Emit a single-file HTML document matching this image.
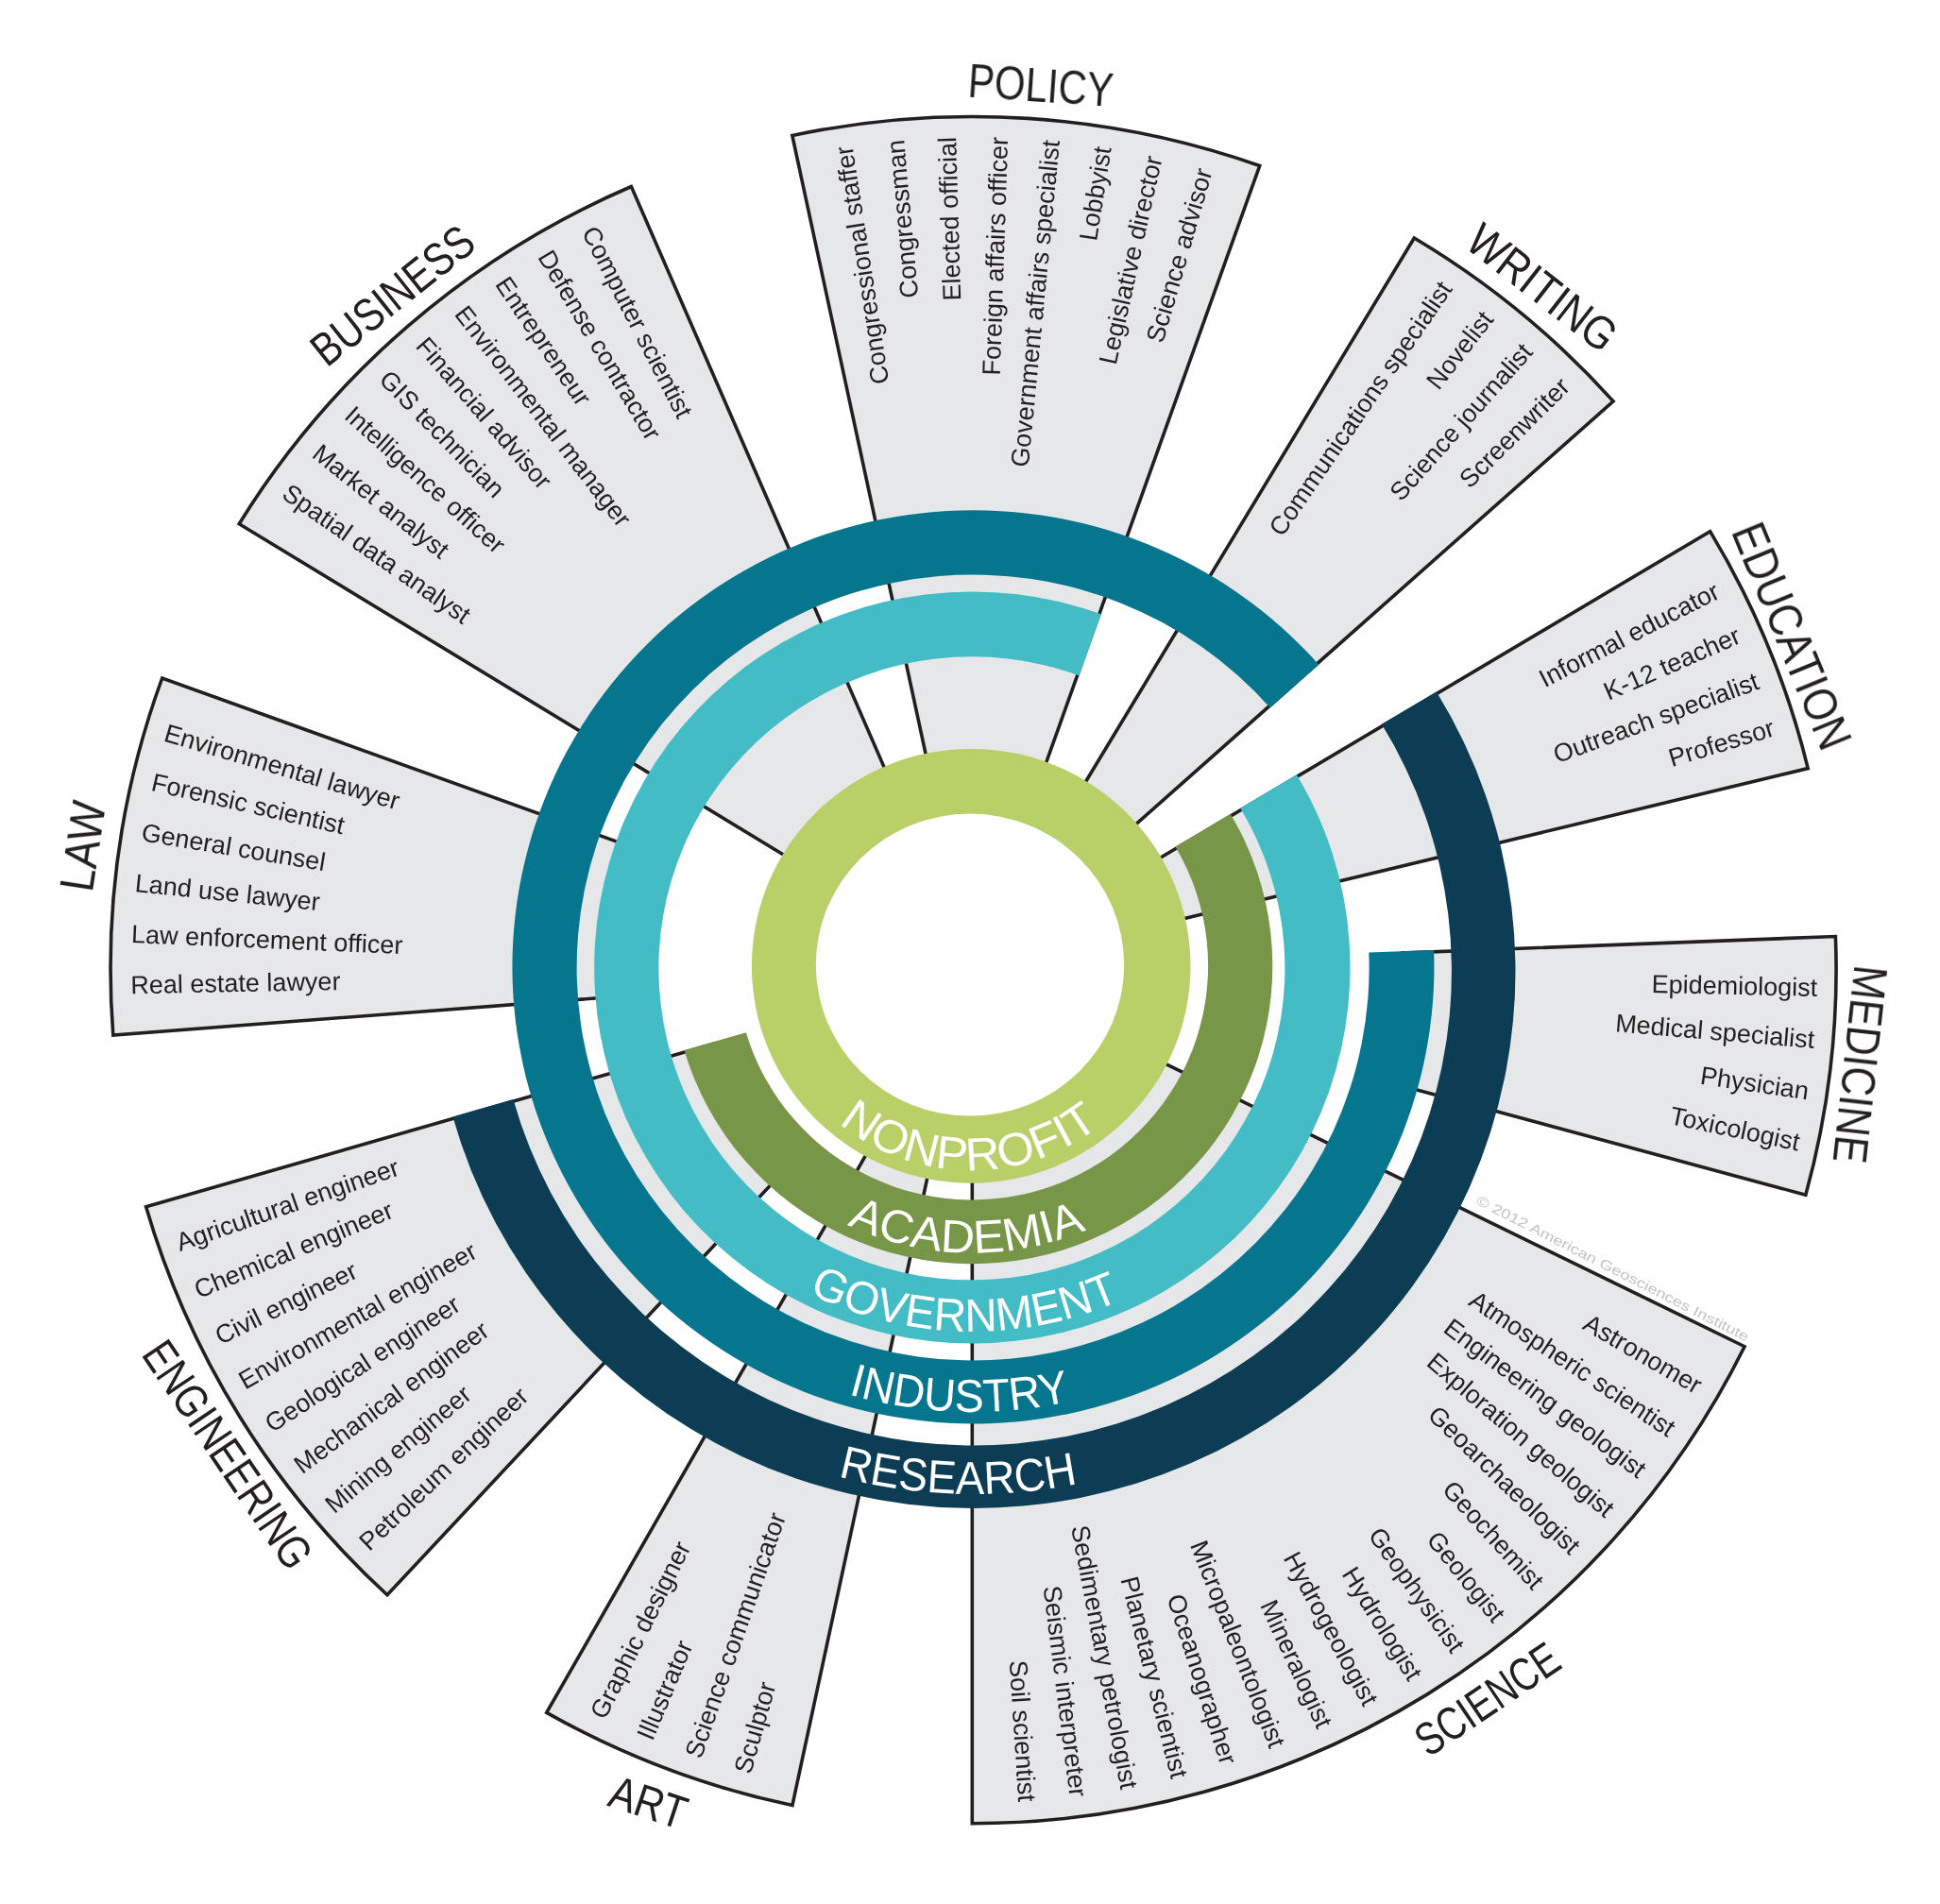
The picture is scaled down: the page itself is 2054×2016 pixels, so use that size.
<!DOCTYPE html>
<html><head><meta charset="utf-8"><title>Geoscience careers</title>
<style>html,body{margin:0;padding:0;background:#fff}svg{display:block}</style></head>
<body>
<svg width="2054" height="2016" viewBox="0 0 2054 2016">
<rect width="2054" height="2016" fill="#fff"/>
<g opacity="0.9999">
<g fill="#e6e7e9" stroke="#231f20" stroke-width="3.6" stroke-linejoin="miter">
<path d="M987.1 830.9 L838.8 143.5 A910.2 903 0 0 1 1333.7 175.5 L1096.7 838"/>
<path d="M1133 855 L1497.3 252 A910.2 903 0 0 1 1708.1 424.9 L1179.6 893.2"/>
<path d="M1202.3 923.8 L1810.6 562.6 A910.5 903.3 0 0 1 1914.2 813.6 L1225.2 979.4"/>
<path d="M1482.6 1009.1 L1943.4 991.5 A914.8 907.5 0 0 1 1911.8 1265.2 L1466.9 1144.9"/>
<path d="M1210.2 1114.8 L1847.1 1425.7 A911.4 904.2 0 0 1 1029.3 1930.7 L1029.3 1226.5"/>
<path d="M987.2 1222.1 L838.9 1911.6 A912.2 905 0 0 1 578.7 1813.4 L929.7 1200.4"/>
<path d="M836 1233.2 L410 1688.8 A910.6 903.4 0 0 1 154.6 1277.8 L756.3 1104.9"/>
<path d="M665.5 1054.3 L119.8 1096.1 A912.2 905 0 0 1 171.7 718 L686.3 903.1"/>
<path d="M857.4 922 L253.2 554.7 A910.2 903 0 0 1 668.4 197.5 L949.4 842.9"/>
</g>
<path d="M795.9 1022.8 A232.3 229.9 0 0 1 1260.5 1022.8 A232.3 229.9 0 0 1 795.9 1022.8 Z M863.8 1021.6 A163.2 160 0 0 1 1190.2 1021.6 A163.2 160 0 0 1 863.8 1021.6 Z" fill="#b9cf68" fill-rule="evenodd"/>
<path d="M1302.8 861.9 A317.9 315.4 0 1 1 724.5 1112.1 L789.9 1093.3 A249.8 247.8 0 1 0 1244.4 896.6 Z" fill="#789648"/>
<path d="M1372.9 820.3 A400.2 398 0 1 1 1165.9 650.3 L1142.6 715.4 A331.5 330 0 1 0 1313.2 855.7 Z" fill="#43bcc5"/>
<path d="M1518.1 1005.9 A488 483.6 0 1 1 1396.3 703.8 L1344.8 749.4 A419.5 416 0 1 0 1449.3 1008.5 Z" fill="#06768f"/>
<path d="M1520.9 732.4 A573.3 568.8 0 1 1 479.4 1182.5 L543.4 1164.1 A506.2 502.2 0 1 0 1462.9 766.8 Z" fill="#0d3d54"/>
<defs>
<path id="rp0" d="M809.4 1022.8 A218.8 216.4 0 0 0 1247 1022.8"/>
<path id="rp1" d="M722.9 1022.6 A306.4 303.9 0 0 0 1335.7 1022.6"/>
<path id="rp2" d="M641.6 1024.3 A387.7 385.5 0 0 0 1417 1024.3"/>
<path id="rp3" d="M554.7 1023.8 A475.7 471.3 0 0 0 1506.1 1023.8"/>
<path id="rp4" d="M472.7 1028.2 A558.5 554 0 0 0 1589.7 1028.2"/>
</defs>
<g font-family="'Liberation Sans', sans-serif" font-size="49" fill="#fff" text-anchor="middle">
<text><textPath href="#rp0" startOffset="49.67%" textLength="298.5" lengthAdjust="spacingAndGlyphs">NONPROFIT</textPath></text>
<text><textPath href="#rp1" startOffset="49.34%" textLength="260.9" lengthAdjust="spacingAndGlyphs">ACADEMIA</textPath></text>
<text><textPath href="#rp2" startOffset="49.28%" textLength="341.3" lengthAdjust="spacingAndGlyphs">GOVERNMENT</textPath></text>
<text><textPath href="#rp3" startOffset="48.98%" textLength="237.8" lengthAdjust="spacingAndGlyphs">INDUSTRY</textPath></text>
<text><textPath href="#rp4" startOffset="49.01%" textLength="256.5" lengthAdjust="spacingAndGlyphs">RESEARCH</textPath></text>
</g>
<g font-family="'Liberation Sans', sans-serif" font-size="49.3" fill="#231f20" text-anchor="middle">
<text transform="translate(1102 89.8) rotate(3.9)" dy="0.358em" textLength="154" lengthAdjust="spacingAndGlyphs">POLICY</text>
<text transform="translate(1633.3 304) rotate(38)" dy="0.358em" textLength="186" lengthAdjust="spacingAndGlyphs">WRITING</text>
<text transform="translate(1897.6 673.2) rotate(67.6)" dy="0.358em" textLength="254" lengthAdjust="spacingAndGlyphs">EDUCATION</text>
<text transform="translate(1970 1127.1) rotate(96.3)" dy="0.358em" textLength="210" lengthAdjust="spacingAndGlyphs">MEDICINE</text>
<text transform="translate(1574.3 1798.6) rotate(-34)" dy="0.358em" textLength="173" lengthAdjust="spacingAndGlyphs">SCIENCE</text>
<text transform="translate(686.6 1907.7) rotate(18.3)" dy="0.358em" textLength="83" lengthAdjust="spacingAndGlyphs">ART</text>
<text transform="translate(241.7 1539.7) rotate(55.9)" dy="0.358em" textLength="279.5" lengthAdjust="spacingAndGlyphs">ENGINEERING</text>
<text transform="translate(87.1 895.8) rotate(-81.3)" dy="0.358em" textLength="95.5" lengthAdjust="spacingAndGlyphs">LAW</text>
<text transform="translate(415.3 312.1) rotate(-38.5)" dy="0.358em" textLength="205" lengthAdjust="spacingAndGlyphs">BUSINESS</text>
</g>
<g font-family="'Liberation Sans', sans-serif" font-size="27" fill="#231f20">
<text transform="translate(894.1 154.8) rotate(-98.8)" dy="0.31em" text-anchor="end">Congressional staffer</text>
<text transform="translate(948.7 148.1) rotate(-95.2)" dy="0.31em" text-anchor="end">Congressman</text>
<text transform="translate(1003.7 144.9) rotate(-91.7)" dy="0.31em" text-anchor="end">Elected official</text>
<text transform="translate(1058.8 145) rotate(-88.1)" dy="0.31em" text-anchor="end">Foreign affairs officer</text>
<text transform="translate(1113.7 148.5) rotate(-84.5)" dy="0.31em" text-anchor="end">Government affairs specialist</text>
<text transform="translate(1168.4 155.4) rotate(-81)" dy="0.31em" text-anchor="end">Lobbyist</text>
<text transform="translate(1222.5 165.6) rotate(-77.4)" dy="0.31em" text-anchor="end">Legislative director</text>
<text transform="translate(1275.8 179.1) rotate(-73.9)" dy="0.31em" text-anchor="end">Science advisor</text>
<text transform="translate(1531.7 301.3) rotate(-55.5)" dy="0.31em" text-anchor="end">Communications specialist</text>
<text transform="translate(1575.8 333.4) rotate(-52)" dy="0.31em" text-anchor="end">Novelist</text>
<text transform="translate(1617.8 368.1) rotate(-48.4)" dy="0.31em" text-anchor="end">Science journalist</text>
<text transform="translate(1657.6 405.3) rotate(-44.9)" dy="0.31em" text-anchor="end">Screenwriter</text>
<text transform="translate(1818.6 624.9) rotate(-27.2)" dy="0.31em" text-anchor="end">Informal educator</text>
<text transform="translate(1841.3 672.3) rotate(-23.7)" dy="0.31em" text-anchor="end">K-12 teacher</text>
<text transform="translate(1861.2 721) rotate(-20.3)" dy="0.31em" text-anchor="end">Outreach specialist</text>
<text transform="translate(1878 770.7) rotate(-16.9)" dy="0.31em" text-anchor="end">Professor</text>
<text transform="translate(1924.2 1046.6) rotate(1.3)" dy="0.31em" text-anchor="end">Epidemiologist</text>
<text transform="translate(1921.2 1101.6) rotate(4.8)" dy="0.31em" text-anchor="end">Medical specialist</text>
<text transform="translate(1914.8 1156.2) rotate(8.4)" dy="0.31em" text-anchor="end">Physician</text>
<text transform="translate(1905 1210.4) rotate(11.9)" dy="0.31em" text-anchor="end">Toxicologist</text>
<text transform="translate(1799.3 1469.3) rotate(30.1)" dy="0.31em" text-anchor="end">Astronomer</text>
<text transform="translate(1770.5 1515.3) rotate(33.6)" dy="0.31em" text-anchor="end">Atmospheric scientist</text>
<text transform="translate(1739 1559.4) rotate(37.1)" dy="0.31em" text-anchor="end">Engineering geologist</text>
<text transform="translate(1704.7 1601.6) rotate(40.6)" dy="0.31em" text-anchor="end">Exploration geologist</text>
<text transform="translate(1667.9 1641.5) rotate(44.2)" dy="0.31em" text-anchor="end">Geoarchaeologist</text>
<text transform="translate(1628.8 1679.2) rotate(47.7)" dy="0.31em" text-anchor="end">Geochemist</text>
<text transform="translate(1587.3 1714.4) rotate(51.2)" dy="0.31em" text-anchor="end">Geologist</text>
<text transform="translate(1543.8 1747) rotate(54.7)" dy="0.31em" text-anchor="end">Geophysicist</text>
<text transform="translate(1498.3 1777) rotate(58.2)" dy="0.31em" text-anchor="end">Hydrologist</text>
<text transform="translate(1451.1 1804.1) rotate(61.7)" dy="0.31em" text-anchor="end">Hydrogeologist</text>
<text transform="translate(1402.3 1828.2) rotate(65.2)" dy="0.31em" text-anchor="end">Mineralogist</text>
<text transform="translate(1352.1 1849.4) rotate(68.7)" dy="0.31em" text-anchor="end">Micropaleontologist</text>
<text transform="translate(1300.6 1867.5) rotate(72.2)" dy="0.31em" text-anchor="end">Oceanographer</text>
<text transform="translate(1248.2 1882.4) rotate(75.8)" dy="0.31em" text-anchor="end">Planetary scientist</text>
<text transform="translate(1194.9 1894.1) rotate(79.3)" dy="0.31em" text-anchor="end">Sedimentary petrologist</text>
<text transform="translate(1141 1902.5) rotate(82.8)" dy="0.31em" text-anchor="end">Seismic interpreter</text>
<text transform="translate(1086.7 1907.7) rotate(86.3)" dy="0.31em" text-anchor="end">Soil scientist</text>
<text transform="translate(633.1 1818.3) rotate(-63.6)" dy="0.31em" text-anchor="start">Graphic designer</text>
<text transform="translate(683 1841) rotate(-67.1)" dy="0.31em" text-anchor="start">Illustrator</text>
<text transform="translate(734.3 1860.6) rotate(-70.7)" dy="0.31em" text-anchor="start">Science communicator</text>
<text transform="translate(786.7 1877.1) rotate(-74.2)" dy="0.31em" text-anchor="start">Sculptor</text>
<text transform="translate(187.8 1317.2) rotate(-19.2)" dy="0.31em" text-anchor="start">Agricultural engineer</text>
<text transform="translate(207.3 1367.6) rotate(-22.7)" dy="0.31em" text-anchor="start">Chemical engineer</text>
<text transform="translate(229.8 1416.8) rotate(-26.2)" dy="0.31em" text-anchor="start">Civil engineer</text>
<text transform="translate(255.3 1464.5) rotate(-29.7)" dy="0.31em" text-anchor="start">Environmental engineer</text>
<text transform="translate(283.7 1510.5) rotate(-33.2)" dy="0.31em" text-anchor="start">Geological engineer</text>
<text transform="translate(314.9 1554.8) rotate(-36.7)" dy="0.31em" text-anchor="start">Mechanical engineer</text>
<text transform="translate(348.7 1597.1) rotate(-40.2)" dy="0.31em" text-anchor="start">Mining engineer</text>
<text transform="translate(385.1 1637.2) rotate(-43.7)" dy="0.31em" text-anchor="start">Petroleum engineer</text>
<text transform="translate(174.7 776.2) rotate(16.5)" dy="0.31em" text-anchor="start">Environmental lawyer</text>
<text transform="translate(160.8 828.6) rotate(12.9)" dy="0.31em" text-anchor="start">Forensic scientist</text>
<text transform="translate(150.2 881.8) rotate(9.4)" dy="0.31em" text-anchor="start">General counsel</text>
<text transform="translate(143 935.6) rotate(5.9)" dy="0.31em" text-anchor="start">Land use lawyer</text>
<text transform="translate(139 989.7) rotate(2.4)" dy="0.31em" text-anchor="start">Law enforcement officer</text>
<text transform="translate(138.4 1043.9) rotate(-1.1)" dy="0.31em" text-anchor="start">Real estate lawyer</text>
<text transform="translate(622.9 242) rotate(62.8)" dy="0.31em" text-anchor="start">Computer scientist</text>
<text transform="translate(575.9 267.8) rotate(59.3)" dy="0.31em" text-anchor="start">Defense contractor</text>
<text transform="translate(530.5 296.4) rotate(55.9)" dy="0.31em" text-anchor="start">Entrepreneur</text>
<text transform="translate(487 327.6) rotate(52.4)" dy="0.31em" text-anchor="start">Environmental manager</text>
<text transform="translate(445.4 361.4) rotate(49)" dy="0.31em" text-anchor="start">Financial advisor</text>
<text transform="translate(406 397.5) rotate(45.5)" dy="0.31em" text-anchor="start">GIS technician</text>
<text transform="translate(368.9 436) rotate(42)" dy="0.31em" text-anchor="start">Intelligence officer</text>
<text transform="translate(334.1 476.7) rotate(38.6)" dy="0.31em" text-anchor="start">Market analyst</text>
<text transform="translate(301.9 519.3) rotate(35.1)" dy="0.31em" text-anchor="start">Spatial data analyst</text>
</g>
<text transform="translate(1563.9 1270.3) rotate(27.07)" dy="0.3em" font-family="'Liberation Sans', sans-serif" font-size="14.5" fill="#c2c3c6" textLength="322" lengthAdjust="spacingAndGlyphs">&#169; 2012 American Geosciences Institute</text>
</g>
</svg>
</body></html>
